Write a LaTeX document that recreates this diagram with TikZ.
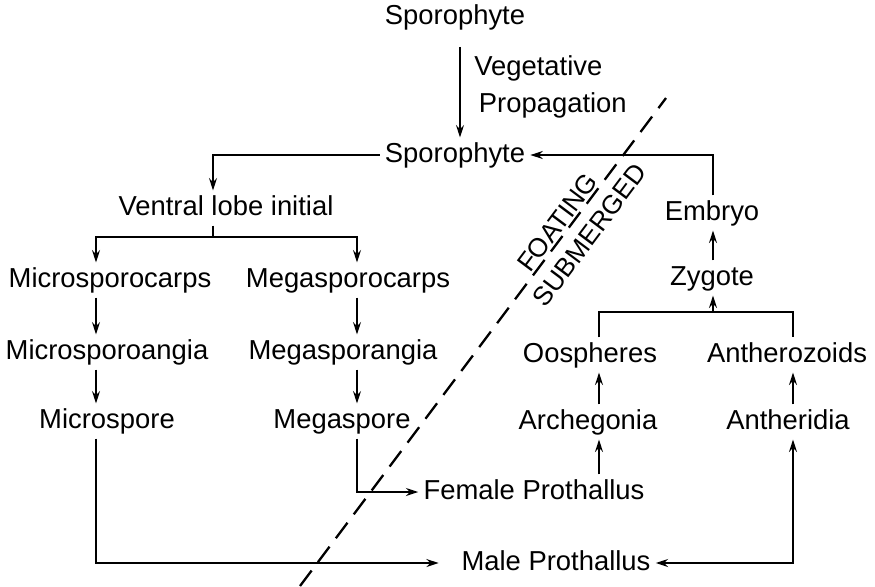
\documentclass[tikz,border=0pt]{standalone}
\usepackage{fontspec}
\setmainfont{Liberation Sans}
\usetikzlibrary{arrows.meta, positioning}

\begin{document}
\begin{tikzpicture}[
    x=0.02cm, y=-0.02cm,
    stage/.style={inner sep=0pt, outer sep=3pt, text height=11pt, text depth=3pt,
        font=\fontsize{15.6}{19}\selectfont},
    zone/.style={inner sep=0pt, font=\fontsize{15}{18}\selectfont},
    link/.style={line width=1.3pt},
    boundary/.style={line width=1.3pt, dash pattern=on 11pt off 6pt},
    >={Stealth[length=7pt, width=4.5pt]}]

\useasboundingbox (0,0) rectangle (875,586);

% columns of the connectors
\coordinate (cS) at (460,0);
\coordinate (cV) at (213,0);
\coordinate (cMic) at (96,0);
\coordinate (cMeg) at (357,0);
\coordinate (cO) at (599,0);
\coordinate (cA) at (793,0);
\coordinate (cE) at (713,0);

% Sporophyte and vegetative propagation
\node[stage] (spt) at (455,17) {Sporophyte};
\node[stage] (spt2) at (455,155) {Sporophyte};
\node[inner sep=0pt, anchor=west, align=left, font=\fontsize{15.6}{21}\selectfont]
    (veg) at (474,87) {Vegetative\\\,Propagation};
\draw[link,->,shorten <=7pt] (spt.south -| cS) -- (spt2.north -| cS);

% floating side
\node[stage] (vli) at (226,208) {Ventral lobe initial};
\node[stage] (mcarp) at (110,280) {Microsporocarps};
\node[stage] (Mcarp) at (348,280) {Megasporocarps};
\node[stage] (mang) at (107,352) {Microsporoangia};
\node[stage] (Mang) at (343,352) {Megasporangia};
\node[stage] (mspore) at (107,421) {Microspore};
\node[stage] (Mspore) at (342,421) {Megaspore};

\coordinate (split) at (213,237);
\draw[link,->] (spt2.west) -| (vli.north -| cV);
\draw[link] (vli.south -| cV) -- (split);
\draw[link,->] (split) -| (mcarp.north -| cMic);
\draw[link,->] (split) -| (Mcarp.north -| cMeg);
\draw[link,->] (mcarp.south -| cMic) -- (mang.north -| cMic);
\draw[link,->] (mang.south -| cMic) -- (mspore.north -| cMic);
\draw[link,->] (Mcarp.south -| cMeg) -- (Mang.north -| cMeg);
\draw[link,->] (Mang.south -| cMeg) -- (Mspore.north -| cMeg);

% submerged side
\node[stage] (fem) at (534,492) {Female Prothallus};
\node[stage] (male) at (556,563) {Male Prothallus};
\node[stage] (arch) at (588,422) {Archegonia};
\node[stage] (anth) at (788,422) {Antheridia};
\node[stage] (oosp) at (590,355) {Oospheres};
\node[stage] (anthz) at (787,355) {Antherozoids};
\node[stage] (zyg) at (712,278) {Zygote};
\node[stage] (emb) at (712,213) {Embryo};

\coordinate (merge) at (713,312);
\draw[link,->] (Mspore.south -| cMeg) |- (fem.west);
\draw[link,->,shorten >=10pt] (mspore.south -| cMic) |- (male.west);
\draw[link,<->] (male.east) -| (anth.south -| cA);
\draw[link,->] (fem.north -| cO) -- (arch.south -| cO);
\draw[link,->] (arch.north -| cO) -- (oosp.south -| cO);
\draw[link,->] (anth.north -| cA) -- (anthz.south -| cA);
\draw[link] (oosp.north -| cO) |- (merge) -| (anthz.north -| cA);
\draw[link,->] (merge) -- (zyg.south -| cE);
\draw[link,->] (zyg.north -| cE) -- (emb.south -| cE);
\draw[link,->] (emb.north -| cE) |- (spt2.east);

% boundary between the two habitats
\coordinate (bndLo) at (300,586);
\coordinate (bndHi) at (666,98);
\draw[boundary] (bndLo) -- (bndHi)
    node[zone, pos=.73, sloped, anchor=south, inner sep=1pt] (fl) {FOATING}
    node[zone, pos=.745, sloped, anchor=north, inner sep=6pt] (sub) {SUBMERGED};
\end{tikzpicture}
\end{document}
